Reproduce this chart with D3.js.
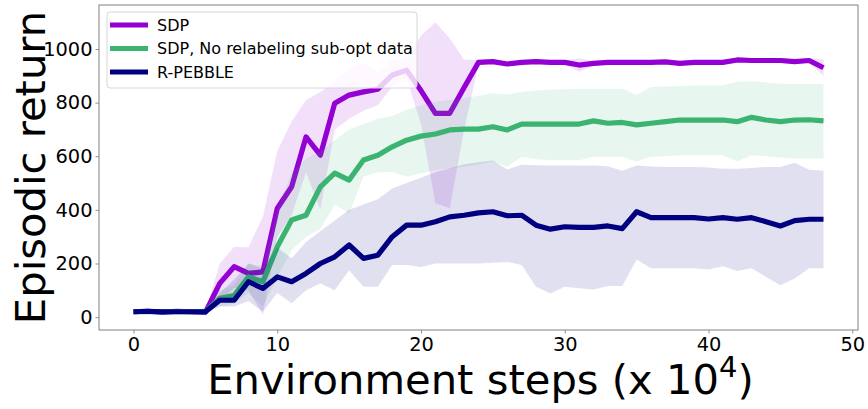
<!DOCTYPE html>
<html>
<head>
<meta charset="utf-8">
<script src="https://cdn.jsdelivr.net/npm/d3@7"></script>
<style>
  html, body { margin: 0; padding: 0; background: #fff; }
  svg { display: block; font-family: "DejaVu Sans", sans-serif; }
</style>
</head>
<body>
<svg id="chart" width="868" height="409"></svg>
<script>
// ---- data ----
const steps = d3.range(0, 49);
const seriesNames = ["SDP", "SDP, No relabeling sub-opt data", "R-PEBBLE"];
const seriesColors = ["#9400D3", "#3CB371", "#000080"];

const sdpMean = [20,22,18,22,20,18,126,188,163,169,405,486,672,604,798,828,840,850,903,921,845,760,760,856,950,953,944,950,953,950,950,940,946,950,950,950,950,952,946,950,950,950,959,957,957,957,953,957,930];
const sdpLo   = [15,17,14,17,15,14,60,110,100,8,300,380,540,400,700,740,770,790,860,890,720,425,406,700,940,945,936,942,945,942,942,915,938,942,942,942,942,944,938,942,942,942,950,949,949,949,945,949,900];
const sdpHi   = [25,27,22,27,25,22,200,262,261,374,620,730,810,840,880,930,950,910,960,960,1050,1100,1040,960,960,961,952,958,961,958,958,965,954,958,958,958,958,960,954,958,958,958,968,965,965,965,961,965,962];

const noRelMean = [20,20,20,20,20,20,70,80,150,132,262,362,380,486,537,511,586,604,635,660,675,683,698,701,701,710,698,720,720,720,720,720,732,723,726,717,723,729,735,735,735,735,729,745,735,729,735,736,732];
const noRelLo   = [15,15,15,15,15,15,40,50,90,40,150,250,300,330,420,388,524,540,540,524,537,548,555,561,570,580,561,598,590,585,585,585,598,598,598,580,598,600,604,604,604,604,580,604,600,595,592,592,592];
const noRelHi   = [25,25,25,25,25,25,100,120,200,190,400,540,590,620,660,700,720,740,750,772,790,803,810,817,826,835,830,840,845,848,850,852,852,852,852,828,858,860,862,864,864,864,878,880,875,870,870,870,870];

const pebbleMean = [20,22,20,20,20,20,63,63,132,107,150,132,163,200,225,269,219,231,300,343,343,356,374,380,389,393,378,380,343,328,337,335,335,340,330,393,371,371,371,371,366,371,365,371,356,340,360,365,365];
const pebbleLo   = [15,17,15,15,15,15,40,40,60,20,90,52,100,125,100,175,113,113,194,194,187,200,200,200,200,203,206,194,113,88,113,108,103,116,116,215,182,182,182,182,178,190,172,182,150,119,144,182,182];
const pebbleHi   = [25,27,25,25,25,25,90,140,200,180,260,220,280,320,360,400,420,440,480,500,520,540,555,570,578,584,551,568,566,565,565,565,565,563,546,565,562,560,560,560,558,553,553,556,560,560,576,550,546];

const xTicks = [0, 10, 20, 30, 40, 50];
const yTicks = [0, 200, 400, 600, 800, 1000];
const xLabel = "Environment steps (x 10";
const xLabelSup = "4";
const yLabel = "Episodic return";

const series = [
  { name: seriesNames[0], color: seriesColors[0], mean: sdpMean, lo: sdpLo, hi: sdpHi },
  { name: seriesNames[1], color: seriesColors[1], mean: noRelMean, lo: noRelLo, hi: noRelHi },
  { name: seriesNames[2], color: seriesColors[2], mean: pebbleMean, lo: pebbleLo, hi: pebbleHi }
];

// ---- layout ----
const svg = d3.select("#chart");
const L = 99, R = 858, T = 5, B = 330;
const x = d3.scaleLinear().domain([-2.4, 50.4]).range([L, R]);
const y = d3.scaleLinear().domain([-48, 1164]).range([B, T]);

const plot = svg.append("g");
const clip = svg.append("clipPath").attr("id", "clipP");
clip.append("rect").attr("x", L).attr("y", T).attr("width", R - L).attr("height", B - T);
plot.attr("clip-path", "url(#clipP)");

const line = d3.line().x((d, i) => x(steps[i])).y(d => y(d));
const area = d3.area().x(d => x(d.s)).y0(d => y(d.lo)).y1(d => y(d.hi));

series.forEach(s => {
  plot.append("path")
    .attr("d", line(s.mean))
    .attr("fill", "none").attr("stroke", s.color).attr("stroke-width", 5.2)
    .attr("stroke-linejoin", "round").attr("stroke-linecap", "butt");
  const band = steps.map((st, i) => ({ s: st, lo: s.lo[i], hi: s.hi[i] }));
  plot.append("path").attr("d", area(band))
    .attr("fill", s.color).attr("fill-opacity", 0.12).attr("stroke", "none");
});

// axes
const xAxis = d3.axisBottom(x).tickValues(xTicks).tickFormat(d3.format("d")).tickSize(3.5).tickPadding(4);
const yAxis = d3.axisLeft(y).tickValues(yTicks).tickFormat(d3.format("d")).tickSize(3.5).tickPadding(3);
const gx = svg.append("g").attr("transform", `translate(0,${B})`).call(xAxis);
const gy = svg.append("g").attr("transform", `translate(${L},0)`).call(yAxis);
[gx, gy].forEach(g => {
  g.select(".domain").remove();
  g.selectAll(".tick line").attr("stroke", "#777").attr("stroke-width", 0.8);
  g.selectAll(".tick text").attr("font-size", 19.4).attr("fill", "#000")
    .attr("font-family", "DejaVu Sans, sans-serif");
});

// frame
svg.append("rect").attr("x", L).attr("y", T).attr("width", R - L).attr("height", B - T)
  .attr("fill", "none").attr("stroke", "#808080").attr("stroke-width", 1);

// axis labels
const xl = svg.append("text").attr("x", (L + R) / 2 + 2).attr("y", 394)
  .attr("text-anchor", "middle").attr("font-size", 41.7).attr("fill", "#000");
xl.append("tspan").text(xLabel);
xl.append("tspan").attr("font-size", 29).attr("dy", -17).text(xLabelSup);
xl.append("tspan").attr("dy", 17).text(")");

svg.append("text")
  .attr("transform", `translate(45,${(T + B) / 2}) rotate(-90)`)
  .attr("text-anchor", "middle").attr("font-size", 41.7).attr("fill", "#000")
  .text(yLabel);

// legend
const lg = svg.append("g");
lg.append("rect").attr("x", 107).attr("y", 12).attr("width", 310).attr("height", 76)
  .attr("rx", 3).attr("fill", "#fff").attr("fill-opacity", 0.8)
  .attr("stroke", "#d6d6d6").attr("stroke-width", 1);
series.forEach((s, i) => {
  const yy = 25 + i * 23.5;
  lg.append("line").attr("x1", 110).attr("x2", 148).attr("y1", yy).attr("y2", yy)
    .attr("stroke", s.color).attr("stroke-width", 5.2);
  lg.append("text").attr("x", 157).attr("y", yy + 5.5).attr("font-size", 16)
    .attr("fill", "#000").text(s.name);
});
</script>
</body>
</html>
